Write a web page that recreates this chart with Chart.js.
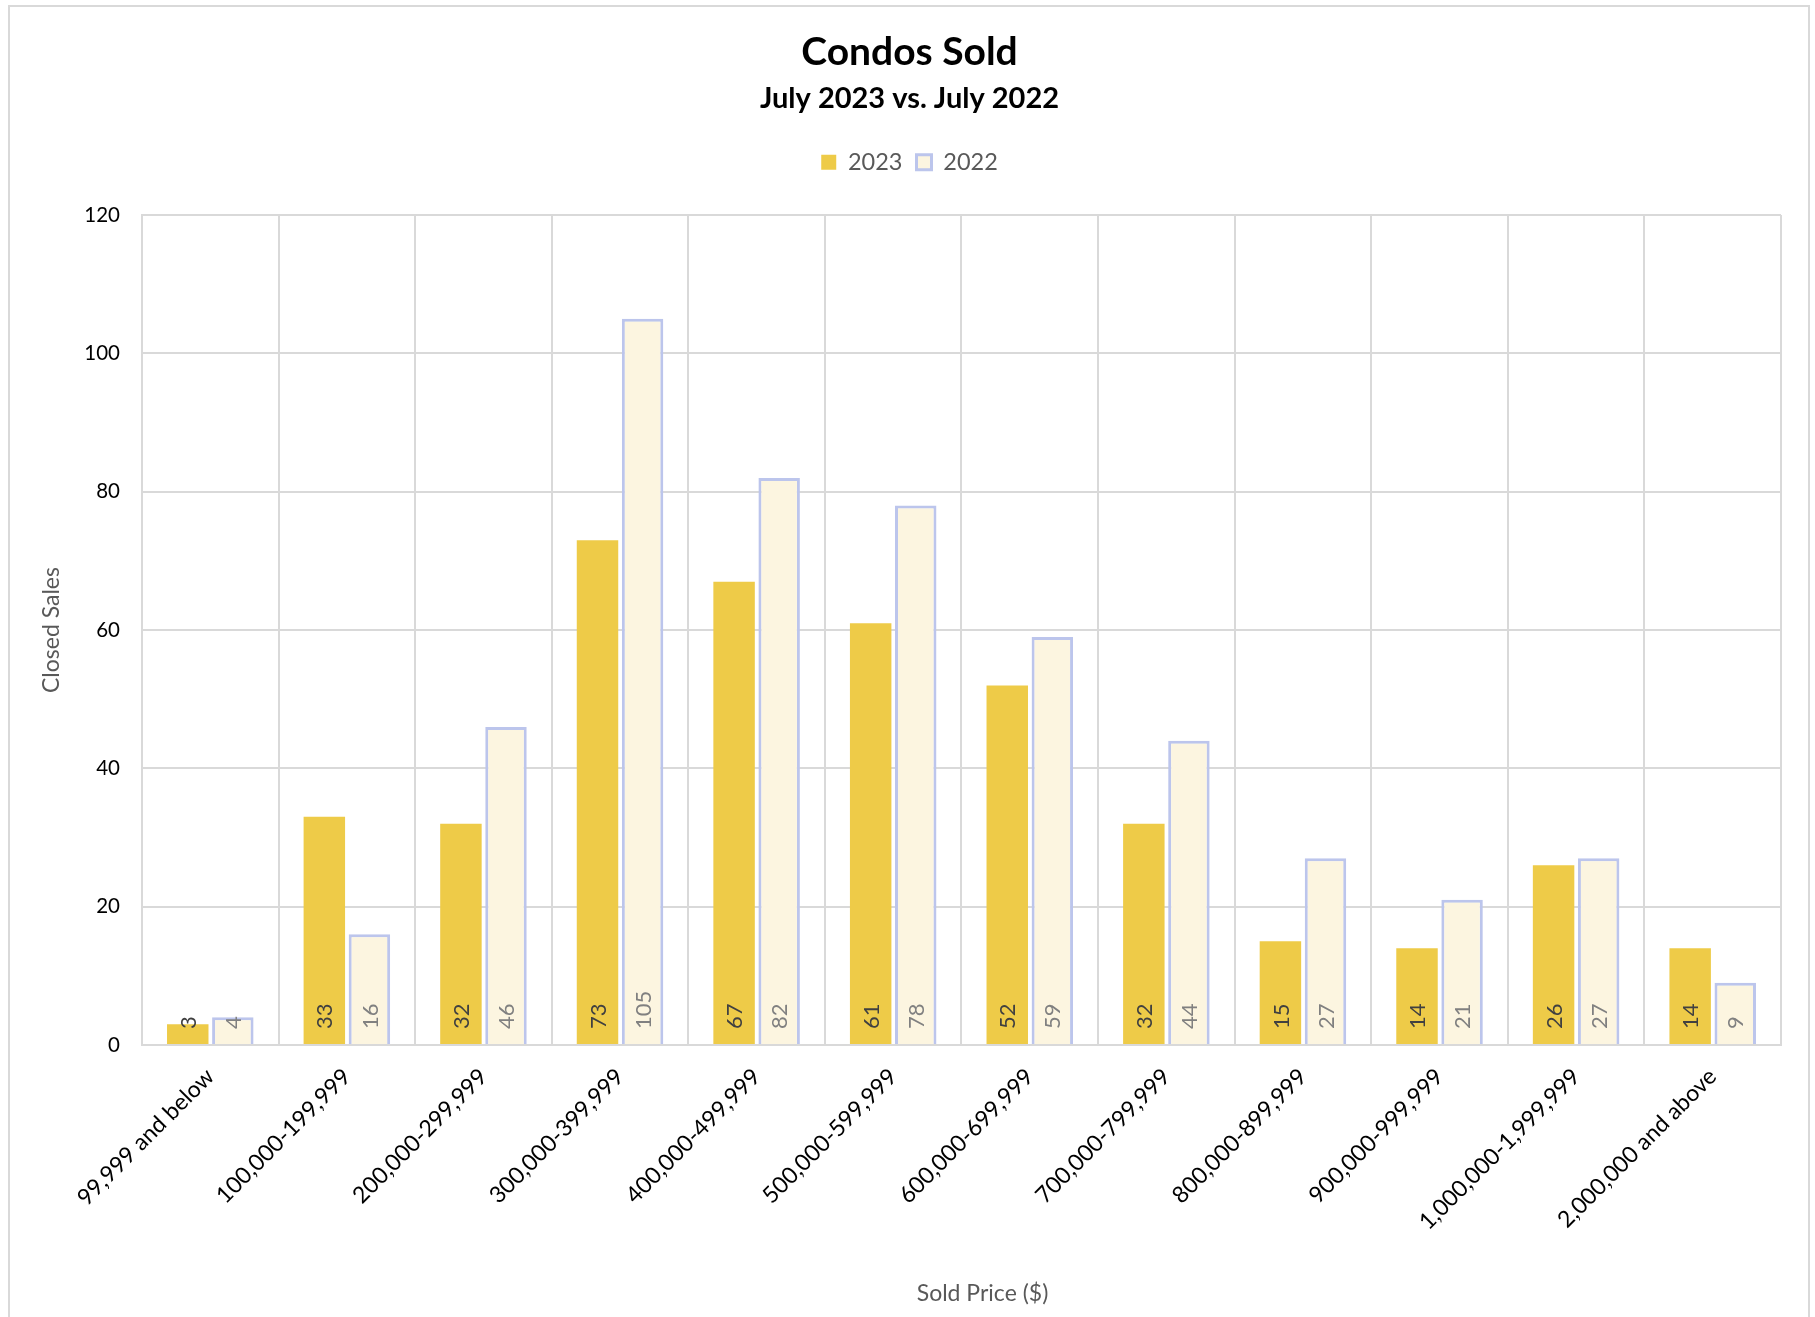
<!DOCTYPE html>
<html>
<head>
<meta charset="utf-8">
<script src="https://cdn.jsdelivr.net/npm/chart.js@4.4.0/dist/chart.umd.min.js"></script>
<style>
  html, body { margin: 0; padding: 0; background: #fff; }
  #wrap { position: relative; width: 1815px; height: 1317px; }
  #frame { position: absolute; left: 8px; top: 5px; width: 1798px; height: 1330px; border: 2px solid #d9d9d9; pointer-events: none; }
</style>
</head>
<body>
<div id="wrap">
  <canvas id="chart" width="1815" height="1317"></canvas>
  <div id="frame"></div>
</div>
<script>
// price ranges on the x axis
const categories = [
  "99,999 and below", "100,000-199,999", "200,000-299,999", "300,000-399,999",
  "400,000-499,999", "500,000-599,999", "600,000-699,999", "700,000-799,999",
  "800,000-899,999", "900,000-999,999", "1,000,000-1,999,999", "2,000,000 and above"
];
const sales2023 = [3, 33, 32, 73, 67, 61, 52, 32, 15, 14, 26, 14];
const sales2022 = [4, 16, 46, 105, 82, 78, 59, 44, 27, 21, 27, 9];
const yTicks = [0, 20, 40, 60, 80, 100, 120];

const FONT = "Lato, 'Open Sans', sans-serif";
const labelColors = ["#404040", "#808080"];
const xTitle = "Sold Price ($)";

// values written vertically inside the bottom of each bar
const barValues = {
  id: "barValues",
  afterDatasetsDraw(chart) {
    const ctx = chart.ctx;
    chart.data.datasets.forEach((ds, i) => {
      const meta = chart.getDatasetMeta(i);
      meta.data.forEach((bar, j) => {
        ctx.save();
        ctx.translate(bar.x, bar.base - 15);
        ctx.rotate(-Math.PI / 2);
        ctx.font = "22px " + FONT;
        ctx.fillStyle = labelColors[i];
        ctx.textAlign = "left";
        ctx.textBaseline = "middle";
        ctx.fillText(ds.data[j], 0, 1);
        ctx.restore();
      });
    });
  }
};

// extra room between legend and plot
const legendGap = {
  id: "legendGap",
  beforeInit(chart) {
    const fit = chart.legend.fit;
    chart.legend.fit = function () {
      fit.bind(chart.legend)();
      this.height += 31;
    };
  }
};

// x axis title sits a little right of centre, like the original
const xTitleDraw = {
  id: "xTitleDraw",
  afterDraw(chart) {
    const ctx = chart.ctx;
    const area = chart.chartArea;
    const xs = chart.scales.x;
    ctx.save();
    ctx.font = "23px " + FONT;
    ctx.fillStyle = "#595959";
    ctx.textAlign = "center";
    ctx.textBaseline = "middle";
    ctx.fillText(xTitle, (area.left + area.right) / 2 + 21, xs.bottom - 13.8);
    ctx.restore();
  }
};

const ctx = document.getElementById("chart").getContext("2d");
new Chart(ctx, {
  type: "bar",
  data: {
    labels: categories,
    datasets: [
      {
        label: "2023",
        data: sales2023,
        backgroundColor: "#eecb48",
        borderWidth: 0,
        categoryPercentage: 0.66,
        barPercentage: 0.92
      },
      {
        label: "2022",
        data: sales2022,
        backgroundColor: "#fcf5e0",
        borderColor: "#bcc5ec",
        borderWidth: 3,
        categoryPercentage: 0.66,
        barPercentage: 0.92
      }
    ]
  },
  options: {
    responsive: false,
    animation: false,
    layout: { padding: { left: 38, right: 34, top: 0, bottom: 10 } },
    plugins: {
      title: {
        display: true,
        text: "Condos Sold",
        color: "#000",
        font: { family: FONT, size: 39, weight: "bold" },
        padding: { top: 29, bottom: 4 }
      },
      subtitle: {
        display: true,
        text: "July 2023 vs. July 2022",
        color: "#000",
        font: { family: FONT, size: 29, weight: "bold" },
        padding: { top: 1, bottom: 21 }
      },
      legend: {
        position: "top",
        labels: {
          color: "#595959",
          font: { family: FONT, size: 23.5 },
          boxWidth: 15,
          boxHeight: 15,
          padding: 14
        }
      },
      tooltip: { enabled: false }
    },
    scales: {
      x: {
        grid: { color: "#d9d9d9", lineWidth: 2, offset: true, drawTicks: false },
        border: { color: "#d9d9d9", width: 2 },
        afterFit(scale) {
          scale.paddingLeft = 0;
        },
        ticks: {
          color: "#000",
          font: { family: FONT, size: 23 },
          maxRotation: 45,
          minRotation: 45,
          padding: 18
        },
        title: {
          display: true,
          text: xTitle,
          color: "rgba(0,0,0,0)",
          font: { family: FONT, size: 23 },
          padding: { top: 26, bottom: 0 }
        }
      },
      y: {
        min: yTicks[0],
        max: yTicks[yTicks.length - 1],
        afterBuildTicks(axis) {
          axis.ticks = yTicks.map(v => ({ value: v }));
        },
        afterFit(axis) {
          axis.width = 104;
        },
        grid: { color: "#d9d9d9", lineWidth: 2, drawTicks: false },
        border: { color: "#d9d9d9", width: 2 },
        ticks: {
          color: "#000",
          font: { family: FONT, size: 20.5 },
          padding: 22
        },
        title: {
          display: true,
          text: "Closed Sales",
          color: "#595959",
          font: { family: FONT, size: 23 },
          padding: { top: 0, bottom: 2 }
        }
      }
    }
  },
  plugins: [barValues, legendGap, xTitleDraw]
});
</script>
</body>
</html>
